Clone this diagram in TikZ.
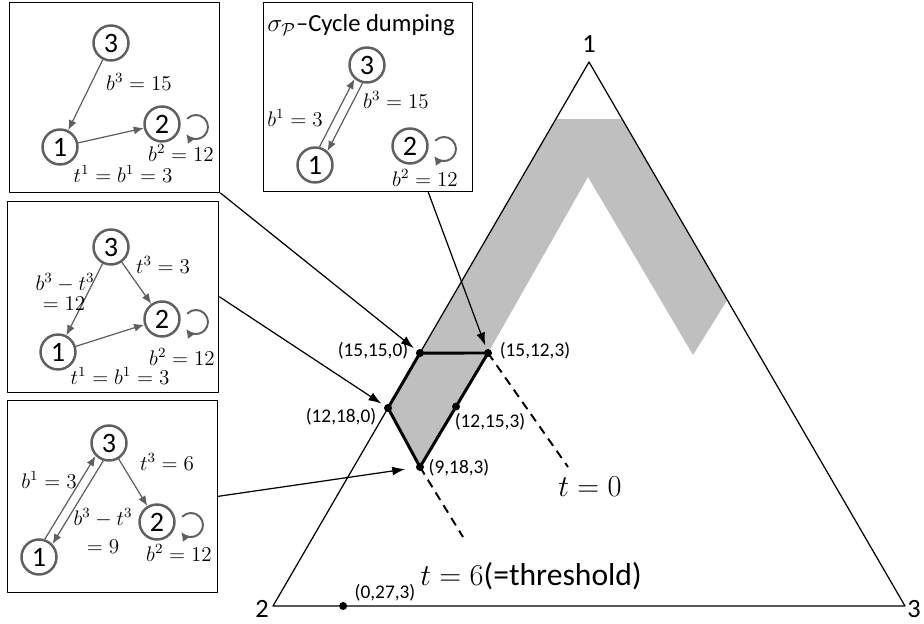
\documentclass[tikz,border=0pt]{standalone}
\usepackage{amsmath,amssymb}
\usepackage{fontspec}
\setmainfont{Carlito}
\usepackage{tikz}
\usetikzlibrary{calc,arrows.meta}
\definecolor{bandgray}{RGB}{191,191,191}
\definecolor{graphgray}{RGB}{95,95,95}

\begin{document}
\begin{tikzpicture}[line join=round, line cap=round,
  vtx/.style={circle, draw=graphgray, line width=1.4pt, minimum size=0.7cm, inner sep=0pt, font=\fontsize{16}{16}\selectfont},
  garrow/.style={draw=graphgray, line width=0.7pt, -{Latex[length=2mm,width=1.6mm]}},
  selfloop/.style={draw=graphgray, line width=1.1pt, -{Latex[length=1.8mm,width=1.8mm]}},
  lab/.style={inner sep=0pt, font=\fontsize{12}{13}\selectfont},
  panel/.style={draw, line width=0.8pt, anchor=south west, inner sep=0pt},
  dot/.style={circle, fill, inner sep=0pt, minimum size=0.16cm},
  ptlab/.style={inner sep=0pt, font=\fontsize{11}{13}\selectfont},
  pointer/.style={line width=0.7pt, -{Latex[length=2.6mm,width=1.8mm]}, shorten >=2pt},
  tline/.style={line width=1.1pt, line cap=butt, dash pattern=on 5pt off 3.5pt}]
\useasboundingbox (0,0) rectangle (18.48,12.48);
\coordinate (V1) at (11.78,11.24);
\coordinate (V2) at (5.46,0.36);
\coordinate (V3) at (18.10,0.36);
\coordinate (G1) at ($(V2)!0.895!(V1)$);
\coordinate (G2) at ($(V1)!0.105!(V3)$);
\coordinate (G3) at ($(V1)!0.4375!(V3)$);
\coordinate (G4) at (13.86,5.38);
\coordinate (G5) at (11.76,8.94);
\coordinate (Q15150) at ($(V2)!0.465!(V1)$);
\coordinate (Q12180) at ($(V2)!0.364!(V1)$);
\coordinate (Q15123) at (9.76,5.42);
\coordinate (Q9183) at (8.40,3.14);
\coordinate (Q12153) at ($(Q15123)!0.47!(Q9183)$);
\coordinate (Q0273) at ($(V2)!0.111!(V3)$);
\coordinate (T0) at (11.36,3.14);
\coordinate (T6) at (9.26,1.74);
\fill[bandgray] (G1) -- (G2) -- (G3) -- (G4) -- (G5) -- (Q15123) -- (Q9183) -- (Q12180) -- cycle;
\draw[line width=0.7pt] (V1) -- (V2) -- (V3) -- cycle;
\draw[line width=1.7pt] (Q15150) -- (Q15123) -- (Q9183) -- (Q12180) -- cycle;
\draw[tline] (Q15123) -- (T0);
\draw[tline] (Q9183) -- (T6);
\node[dot] (p15150) at (Q15150) {};
\node[dot] (p15123) at (Q15123) {};
\node[dot] (p12180) at (Q12180) {};
\node[dot] (p12153) at (Q12153) {};
\node[dot] (p9183) at (Q9183) {};
\node[dot] (p0273) at (Q0273) {};
\node[ptlab] at (7.46,5.46) {(15,15,0)};
\node[ptlab] at (10.70,5.46) {(15,12,3)};
\node[ptlab] at (6.82,4.14) {(12,18,0)};
\node[ptlab] at (9.80,4.04) {(12,15,3)};
\node[ptlab] at (9.18,3.12) {(9,18,3)};
\node[ptlab] at (7.70,0.62) {(0,27,3)};
\node[inner sep=0pt, font=\fontsize{15}{15}\selectfont] at (11.78,11.60) {1};
\node[inner sep=0pt, font=\fontsize{15}{15}\selectfont] at (5.24,0.30) {2};
\node[inner sep=0pt, font=\fontsize{15}{15}\selectfont] at (18.28,0.30) {3};
\node[inner sep=0pt, font=\fontsize{18}{20}\selectfont] at (11.80,2.74) {$t=0$};
\node[inner sep=0pt, font=\fontsize{18}{20}\selectfont] at (10.62,0.96) {$t=6$(=threshold)};
\node[panel, minimum width=4.2cm, minimum height=3.8cm] (boxA) at (0.18,8.62) {};
\node[panel, minimum width=4.22cm, minimum height=3.82cm] (boxB) at (0.14,4.62) {};
\node[panel, minimum width=4.2cm, minimum height=3.84cm] (boxC) at (0.14,0.62) {};
\node[panel, minimum width=4.18cm, minimum height=3.78cm] (boxD) at (5.26,8.64) {};
\node[vtx] (a3) at (2.22,11.62) {3};
\node[vtx] (a2) at (3.24,10.00) {2};
\node[vtx] (a1) at (1.20,9.54) {1};
\draw[garrow] (a3) -- (a1);
\draw[garrow] (a1) -- (a2);
\node[lab] at (2.78,10.84) {$b^3=15$};
\node[lab] at (3.62,9.42) {$b^2=12$};
\node[lab] at (2.46,9.00) {$t^1=b^1=3$};
\node[vtx] (b3) at (2.22,7.54) {3};
\node[vtx] (b2) at (3.24,6.10) {2};
\node[vtx] (b1) at (1.16,5.44) {1};
\draw[garrow] (b3) -- (b1);
\draw[garrow] (b3) -- (b2);
\draw[garrow] (b1) -- (b2);
\node[lab] at (3.26,7.18) {$t^3=3$};
\node[lab] at (1.30,6.82) {$b^3-t^3$};
\node[lab] at (1.28,6.40) {$=12$};
\node[lab] at (3.64,5.34) {$b^2=12$};
\node[lab] at (2.40,4.96) {$t^1=b^1=3$};
\node[vtx] (c3) at (2.18,3.62) {3};
\node[vtx] (c2) at (3.14,2.04) {2};
\node[vtx] (c1) at (0.78,1.34) {1};
\draw[garrow] (c1.72) -- (c3.224);
\draw[garrow] (c3.252) -- (c1.44);
\draw[garrow] (c3) -- (c2);
\node[lab] at (3.34,3.24) {$t^3=6$};
\node[lab] at (0.98,2.88) {$b^1=3$};
\node[lab] at (2.06,2.12) {$b^3-t^3$};
\node[lab] at (2.06,1.54) {$=9$};
\node[lab] at (3.58,1.42) {$b^2=12$};
\node[inner sep=0pt, font=\fontsize{14}{16}\selectfont] at (7.22,11.98) {$\sigma_{\mathcal{P}}$--Cycle dumping};
\node[vtx] (d3) at (7.34,11.18) {3};
\node[vtx] (d2) at (8.20,9.56) {2};
\node[vtx] (d1) at (6.30,9.18) {1};
\draw[garrow] (d1.76) -- (d3.228);
\draw[garrow] (d3.256) -- (d1.48);
\node[lab] at (5.90,10.12) {$b^1=3$};
\node[lab] at (7.92,10.48) {$b^3=15$};
\node[lab] at (8.50,8.92) {$b^2=12$};
\foreach \n in {a2,b2,c2,d2}
  \draw[selfloop] ([shift={(0.51,0.11)}]\n.center) arc[start angle=135, end angle=-145, radius=0.24];
\draw[pointer] (boxA.south east) -- (p15150);
\draw[pointer] (boxB.east) -- (p12180);
\draw[pointer, shorten >=6pt] (boxC.east) -- (p9183);
\draw[pointer] ($(boxD.south west)!0.785!(boxD.south east)$) -- (p15123);
\end{tikzpicture}
\end{document}
